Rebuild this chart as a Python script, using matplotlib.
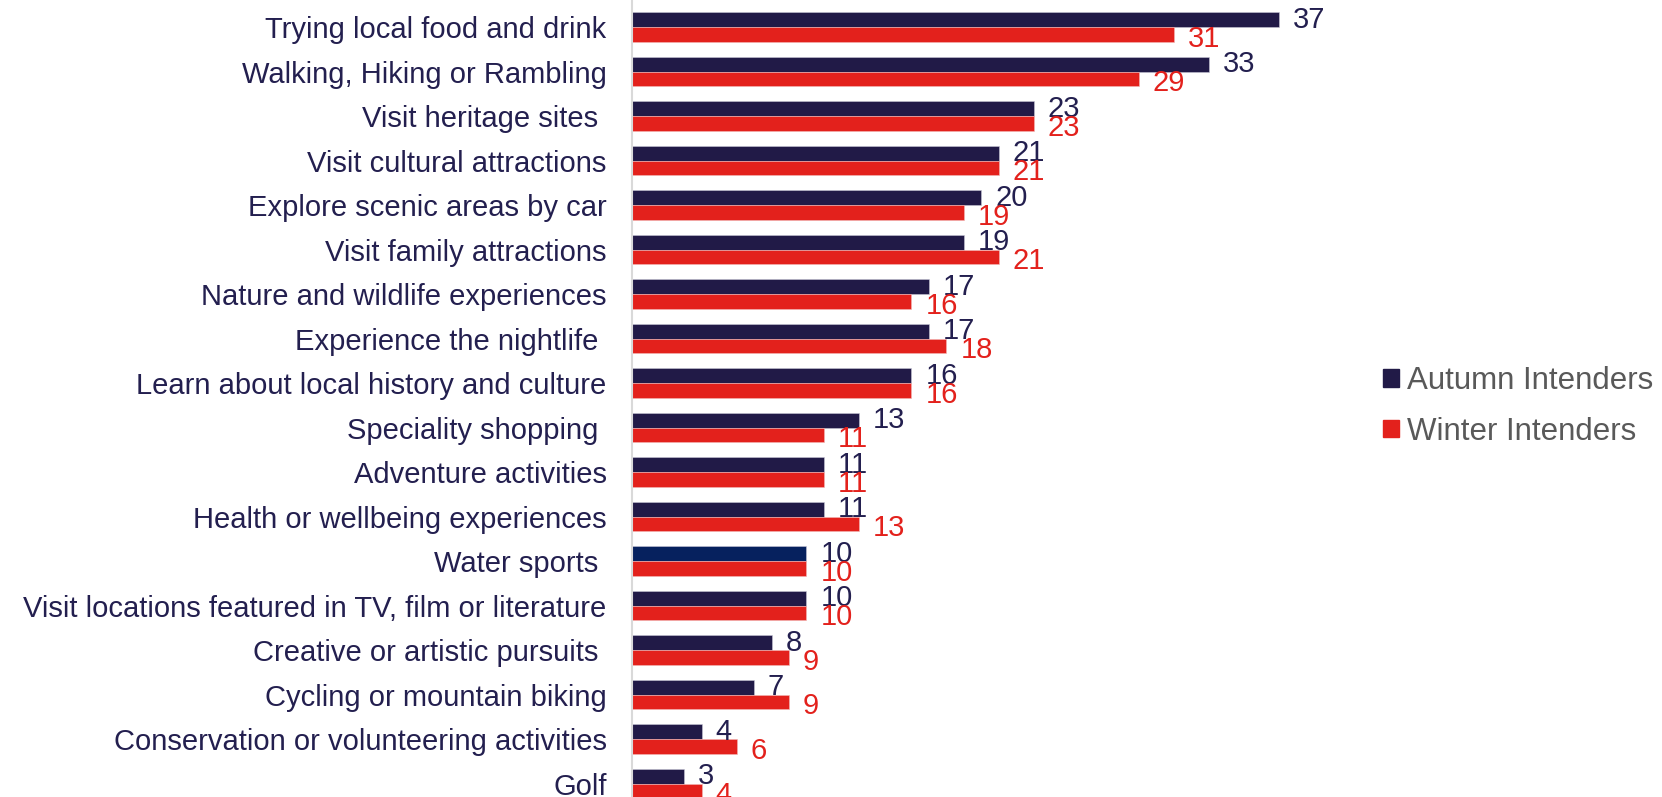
import numpy as np
import matplotlib.pyplot as plt
from matplotlib.patches import Patch

# Dane wykresu
categories = [
    "Trying local food and drink",
    "Walking, Hiking or Rambling",
    "Visit heritage sites ",
    "Visit cultural attractions",
    "Explore scenic areas by car",
    "Visit family attractions",
    "Nature and wildlife experiences",
    "Experience the nightlife ",
    "Learn about local history and culture",
    "Speciality shopping ",
    "Adventure activities",
    "Health or wellbeing experiences",
    "Water sports ",
    "Visit locations featured in TV, film or literature",
    "Creative or artistic pursuits ",
    "Cycling or mountain biking",
    "Conservation or volunteering activities",
    "Golf",
]
autumn = [37, 33, 23, 21, 20, 19, 17, 17, 16, 13, 11, 11, 10, 10, 8, 7, 4, 3]
winter = [31, 29, 23, 21, 19, 21, 16, 18, 16, 11, 11, 13, 10, 10, 9, 9, 6, 4]
series_names = ["Autumn Intenders", "Winter Intenders"]

navy = "#211A47"
red = "#E3211C"
text_navy = "#231F4F"
legend_grey = "#595959"

plt.rcParams['font.family'] = ['Liberation Sans', 'DejaVu Sans']

fig = plt.figure(figsize=(16.62, 7.97), dpi=100)
ax = fig.add_axes([0.380, 0.0, 0.421, 1.0])

y = np.arange(len(categories))
h = 0.33
autumn_colors = [navy] * len(categories)
autumn_colors[categories.index("Water sports ")] = "#06215E"

ax.barh(y - h / 2, autumn, height=h, color=autumn_colors, edgecolor="#C8C6D6", linewidth=0.4)
ax.barh(y + h / 2, winter, height=h, color=red, edgecolor="#F2B8B6", linewidth=0.4)

for i in range(len(categories)):
    ax.annotate(str(autumn[i]), (autumn[i], y[i] - h / 2), xytext=(10, 0),
                textcoords="offset points", va="center", ha="left",
                fontsize=21, color=text_navy)
    ax.annotate(str(winter[i]), (winter[i], y[i] + h / 2), xytext=(10, -3),
                textcoords="offset points", va="center", ha="left",
                fontsize=21, color=red)

ax.set_xlim(0, 40)
ax.set_ylim(17.3, -0.61)
ax.set_yticks(y)
ax.set_yticklabels(categories, fontsize=21, color=text_navy)
ax.tick_params(axis="y", length=0, pad=18)
ax.set_xticks([])
for s in ["top", "right", "bottom"]:
    ax.spines[s].set_visible(False)
ax.spines["left"].set_color("#D9D9D9")
ax.spines["left"].set_linewidth(1.5)

handles = [Patch(color=navy), Patch(color=red)]
leg = fig.legend(handles, series_names, loc="center left", bbox_to_anchor=(0.823, 0.49),
                 frameon=False, fontsize=22.5, handlelength=0.5, handleheight=0.5,
                 handletextpad=0.25, labelspacing=0.65, borderpad=0)
for t in leg.get_texts():
    t.set_color(legend_grey)

fig.savefig("out.png", dpi=100)
